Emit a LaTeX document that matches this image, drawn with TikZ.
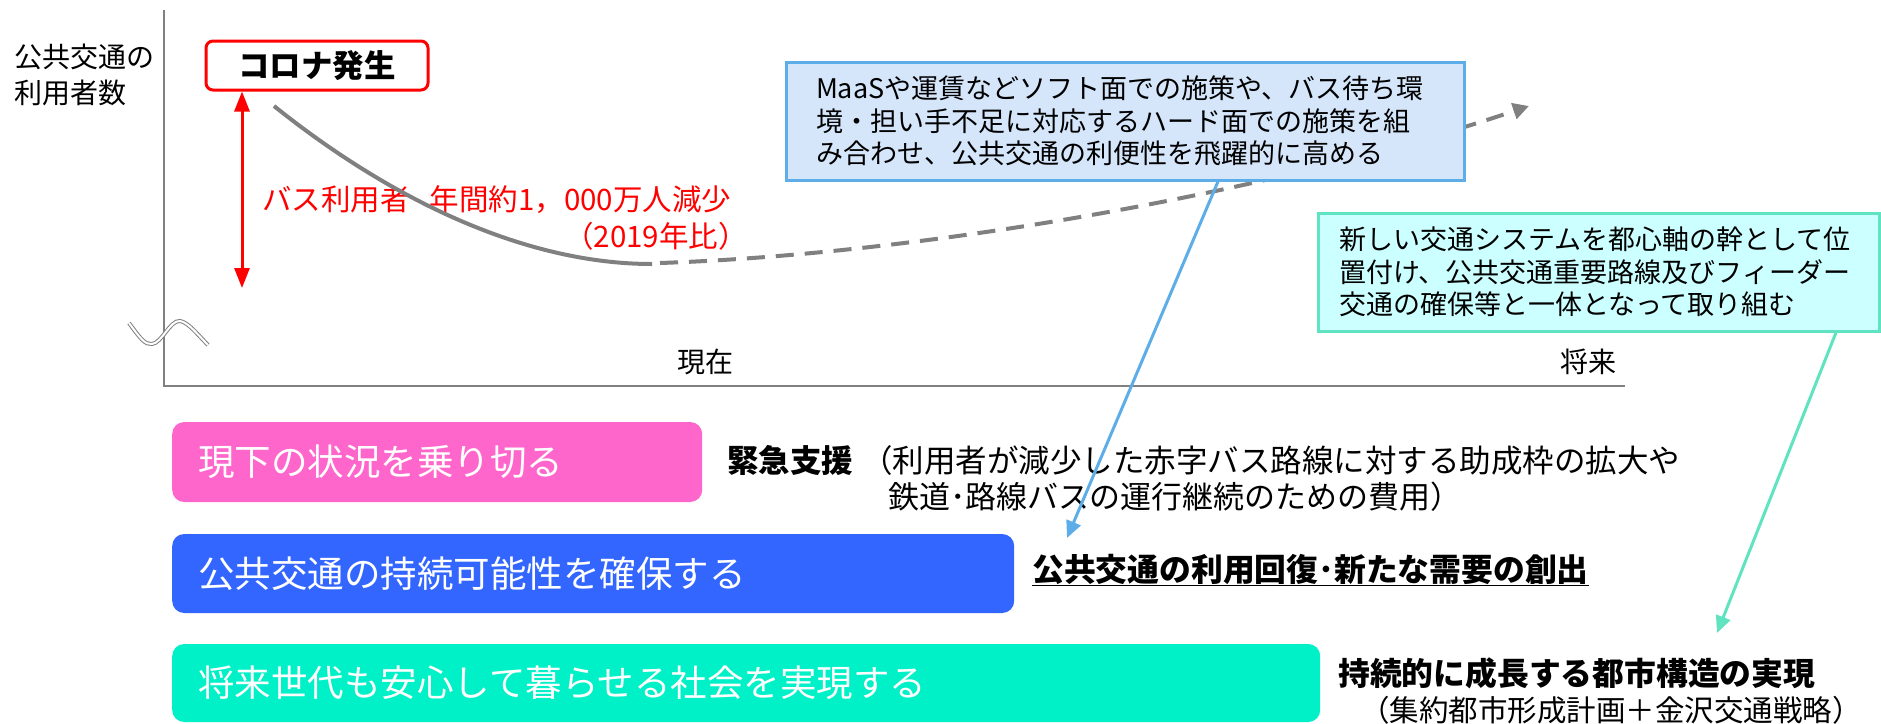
\documentclass[tikz,border=0pt]{standalone}
\usepackage{fontspec}
\setmainfont{Noto Sans CJK JP}
\usetikzlibrary{arrows.meta}
\definecolor{pinkbox}{HTML}{FF66CC}
\definecolor{bluebox}{HTML}{3366FF}
\definecolor{tealbox}{HTML}{00F0C8}
\definecolor{maasfill}{HTML}{D5E6FB}
\definecolor{maasline}{HTML}{5DADE8}
\definecolor{infofill}{HTML}{CCFFFF}
\definecolor{infoline}{HTML}{5FE3C0}
\definecolor{curvegray}{HTML}{808080}
\tikzset{
  bigbox/.style={rounded corners=12pt, inner xsep=26pt, inner ysep=0pt, anchor=west, align=left, text=white,
    font=\fontsize{36.5}{44}\selectfont},
  notebox/.style={line width=3pt, inner ysep=0pt, align=left, font=\fontsize{27}{32.5}\selectfont},
  plain/.style={inner sep=0pt},
  linkarrow/.style={line width=3pt, -{Triangle[width=15pt,length=17pt]}},
}
\begin{document}
\begin{tikzpicture}[x=1pt,y=-1pt]
\useasboundingbox (0,0) rectangle (1881,723);

% axes
\draw[curvegray, line width=2.5pt] (164,10) -- (164,386) -- (1625,386);
\node[plain, anchor=west, align=left, font=\fontsize{28}{36}\selectfont] (ylab) at (14,75) {公共交通の\\利用者数};
\node[plain, font=\fontsize{28}{34}\selectfont] (now) at (705,362) {現在};
\node[plain, font=\fontsize{28}{34}\selectfont] (future) at (1588,362) {将来};

% break mark
\draw[curvegray, double=white, double distance=2pt, line width=1pt]
  (129,323) .. controls (140,338) and (145,345) .. (152,344)
  .. controls (162,343) and (170,320) .. (180,321)
  .. controls (188,322) and (198,335) .. (208,345);

% corona box
\node[draw=red, line width=3pt, fill=white, rounded corners=7pt, minimum width=222pt, minimum height=49pt,
  inner sep=0pt, font=\fontsize{31.5}{36}\selectfont\bfseries] (corona) at (317,65.5) {コロナ発生};
\coordinate (redlow) at (242,288);
\draw[red, line width=3pt, {Triangle[width=15pt,length=20pt]}-{Triangle[width=15pt,length=20pt]}]
  (corona.south -| redlow) -- (redlow);
\node[plain, anchor=west, text=red, font=\fontsize{29.5}{34}\selectfont] (red1) at (262,200) {バス利用者\hspace{20pt}年間約1，000万人減少};
\node[plain, anchor=east, text=red, font=\fontsize{29.5}{34}\selectfont] (red2) at (748,236) {（2019年比）};

% curves
\coordinate (c0) at (274,106);
\coordinate (c1) at (652,264);
\coordinate (d0) at (660,263);
\coordinate (d1) at (1529,106);
\draw[curvegray, line width=4pt] (c0) .. controls (385,195) and (520,264) .. (c1);
\draw[curvegray, line width=4pt, dash pattern=on 18pt off 11pt, -{Triangle[width=16pt,length=16pt]}]
  (d0) .. controls (900,255) and (1250,200) .. (d1);

% note boxes
\node[notebox, draw=maasline, fill=maasfill, text width=618pt, inner xsep=30pt, minimum height=118pt] (maas) at (1125,121)
  {MaaSや運賃などソフト面での施策や、バス待ち環\\境・担い手不足に対応するハード面での施策を組\\み合わせ、公共交通の利便性を飛躍的に高める};
\node[notebox, draw=infoline, fill=infofill, text width=519pt, inner xsep=21pt, minimum height=118pt] (info) at (1598.5,272)
  {新しい交通システムを都心軸の幹として位\\置付け、公共交通重要路線及びフィーダー\\交通の確保等と一体となって取り組む};

% big boxes
\node[bigbox, fill=pinkbox, minimum width=530pt, minimum height=80pt, text width=478pt] (b1) at (172,462) {現下の状況を乗り切る};
\node[bigbox, fill=bluebox, minimum width=842pt, minimum height=79pt, text width=790pt] (b2) at (172,573.5) {公共交通の持続可能性を確保する};
\node[bigbox, fill=tealbox, minimum width=1148pt, minimum height=78pt, text width=1096pt] (b3) at (172,683) {将来世代も安心して暮らせる社会を実現する};

% outcome texts
\node[plain, anchor=west, font=\fontsize{31.5}{38}\selectfont] (em1) at (727,460) {{\bfseries 緊急支援}\hspace{8pt}（利用者が減少した赤字バス路線に対する助成枠の拡大や};
\node[plain, anchor=west, font=\fontsize{31}{38}\selectfont] (em2) at (888,497) {鉄道･路線バスの運行継続のための費用）};
\node[plain, anchor=west, font=\fontsize{31.8}{38}\selectfont\bfseries] (recov) at (1032,570) {\underline{公共交通の利用回復･新たな需要の創出}};
\node[plain, anchor=west, font=\fontsize{31.8}{38}\selectfont\bfseries] (city1) at (1338,673) {持続的に成長する都市構造の実現};
\node[plain, anchor=east, font=\fontsize{29.5}{34}\selectfont] (city2) at (1862,710) {（集約都市形成計画＋金沢交通戦略）};

% connectors
\coordinate (bluetip) at (1067,538);
\coordinate (tealtip) at (1717,633);
\draw[linkarrow, maasline] ([xshift=93pt]maas.south) -- (bluetip);
\draw[linkarrow, infoline] ([xshift=237.5pt]info.south) -- (tealtip);
\end{tikzpicture}
\end{document}
